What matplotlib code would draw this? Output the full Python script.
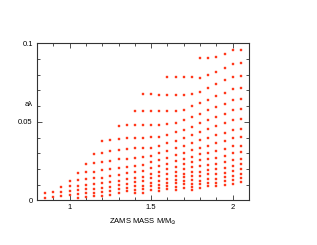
import matplotlib
matplotlib.use("Agg")
import matplotlib.pyplot as plt
from matplotlib.ticker import MultipleLocator, FixedLocator

plt.rcParams["font.family"] = ["Liberation Sans", "DejaVu Sans"]

masses = [0.85, 0.90, 0.95, 1.00, 1.05, 1.10, 1.15, 1.20, 1.25, 1.30, 1.35, 1.40,
          1.45, 1.50, 1.55, 1.60, 1.65, 1.70, 1.75, 1.80, 1.85, 1.90, 1.95, 2.00, 2.05]

alpha_cols = [
    [0.0045, 0.0016],
    [0.0050, 0.0024],
    [0.0083, 0.0055, 0.0027],
    [0.0125, 0.0088, 0.0059, 0.0032],
    [0.0176, 0.0129, 0.0094, 0.0063, 0.0038, 0.0015],
    [0.0229, 0.0178, 0.0134, 0.0099, 0.0071, 0.0046, 0.0023],
    [0.0296, 0.0235, 0.0183, 0.0139, 0.0104, 0.0073, 0.0048, 0.0027],
    [0.0376, 0.0304, 0.0244, 0.0190, 0.0145, 0.0108, 0.0077, 0.0051, 0.0030],
    [0.0387, 0.0315, 0.0252, 0.0199, 0.0153, 0.0115, 0.0084, 0.0058, 0.0036],
    [0.0475, 0.0392, 0.0322, 0.0261, 0.0207, 0.0160, 0.0124, 0.0096, 0.0070, 0.0046],
    [0.0478, 0.0397, 0.0327, 0.0265, 0.0214, 0.0172, 0.0134, 0.0104, 0.0078, 0.0057],
    [0.0569, 0.0480, 0.0399, 0.0331, 0.0271, 0.0220, 0.0180, 0.0145, 0.0115, 0.0089,
     0.0066, 0.0045],
    [0.0675, 0.0571, 0.0481, 0.0400, 0.0332, 0.0273, 0.0225, 0.0185, 0.0150, 0.0120,
     0.0094, 0.0070, 0.0048],
    [0.0675, 0.0571, 0.0480, 0.0403, 0.0335, 0.0285, 0.0244, 0.0204, 0.0169, 0.0140,
     0.0112, 0.0088, 0.0064],
    [0.0673, 0.0569, 0.0482, 0.0405, 0.0348, 0.0301, 0.0257, 0.0217, 0.0182, 0.0153,
     0.0125, 0.0099, 0.0076, 0.0057],
    [0.0787, 0.0671, 0.0569, 0.0484, 0.0418, 0.0365, 0.0316, 0.0271, 0.0231, 0.0197,
     0.0166, 0.0138, 0.0112, 0.0091, 0.0070],
    [0.0783, 0.0671, 0.0571, 0.0494, 0.0435, 0.0380, 0.0331, 0.0287, 0.0248, 0.0212,
     0.0182, 0.0155, 0.0129, 0.0108, 0.0087, 0.0066],
    [0.0783, 0.0673, 0.0577, 0.0511, 0.0450, 0.0395, 0.0346, 0.0303, 0.0265, 0.0229,
     0.0199, 0.0169, 0.0146, 0.0123, 0.0102, 0.0080],
    [0.0783, 0.0680, 0.0599, 0.0532, 0.0470, 0.0414, 0.0363, 0.0318, 0.0278, 0.0242,
     0.0210, 0.0182, 0.0155, 0.0129, 0.0106, 0.0085, 0.0066],
    [0.0908, 0.0781, 0.0692, 0.0620, 0.0552, 0.0492, 0.0434, 0.0382, 0.0336, 0.0292,
     0.0254, 0.0217, 0.0182, 0.0154, 0.0126, 0.0101, 0.0076],
    [0.0906, 0.0798, 0.0715, 0.0641, 0.0573, 0.0511, 0.0452, 0.0397, 0.0346, 0.0303,
     0.0263, 0.0227, 0.0195, 0.0166, 0.0138, 0.0112, 0.0089],
    [0.0911, 0.0819, 0.0741, 0.0664, 0.0594, 0.0529, 0.0473, 0.0416, 0.0362, 0.0314,
     0.0271, 0.0231, 0.0197, 0.0166, 0.0137, 0.0112, 0.0092],
    [0.0934, 0.0843, 0.0764, 0.0685, 0.0615, 0.0550, 0.0490, 0.0431, 0.0376, 0.0329,
     0.0284, 0.0244, 0.0208, 0.0176, 0.0146, 0.0121, 0.0099],
    [0.0955, 0.0868, 0.0787, 0.0711, 0.0639, 0.0573, 0.0511, 0.0448, 0.0395, 0.0346,
     0.0299, 0.0259, 0.0220, 0.0187, 0.0157, 0.0129, 0.0107],
    [0.0957, 0.0873, 0.0790, 0.0715, 0.0645, 0.0580, 0.0516, 0.0454, 0.0401, 0.0348,
     0.0306, 0.0265, 0.0229, 0.0197, 0.0168, 0.0140, 0.0115],
]

x_ticks = [1.0, 1.5, 2.0]
x_tick_labels = ["1", "1.5", "2"]
y_ticks = [0.0, 0.05, 0.1]
y_tick_labels = ["0", "0.05", "0.1"]

W, H = 317, 245
fig = plt.figure(figsize=(W / 100, H / 100), dpi=100)
ax = fig.add_axes([37 / W, 1 - 200.3 / H, 212 / W, 157 / H])

for m, col in zip(masses, alpha_cols):
    ax.plot([m] * len(col), col, linestyle="none", marker="s", markersize=1.8,
            color="#ff2a10", markeredgewidth=0.3, markeredgecolor="#ff5030")

ax.set_xlim(0.8, 2.1)
ax.set_ylim(0.0, 0.1)
ax.xaxis.set_major_locator(FixedLocator(x_ticks))
ax.set_xticklabels(x_tick_labels)
ax.yaxis.set_major_locator(FixedLocator(y_ticks))
ax.set_yticklabels(y_tick_labels)
ax.xaxis.set_minor_locator(MultipleLocator(0.1))
ax.yaxis.set_minor_locator(MultipleLocator(0.01))
ax.tick_params(which="both", direction="in", top=True, right=True,
               labelsize=5.5, colors="#333333", labelcolor="black", width=0.6)
ax.tick_params(which="major", length=3.5, pad=3)
ax.tick_params(which="minor", length=2)
for s in ax.spines.values():
    s.set_linewidth(0.8)
    s.set_color("#333333")

fig.text(29 / W, 1 - 104 / H, "aλ", fontsize=5.5, ha="center", va="center")
fig.text(143 / W, 1 - 222 / H, r"ZAMS MASS M/M$_{\odot}$", fontsize=5.5,
         ha="center", va="center")

fig.savefig("out.png", dpi=100)
